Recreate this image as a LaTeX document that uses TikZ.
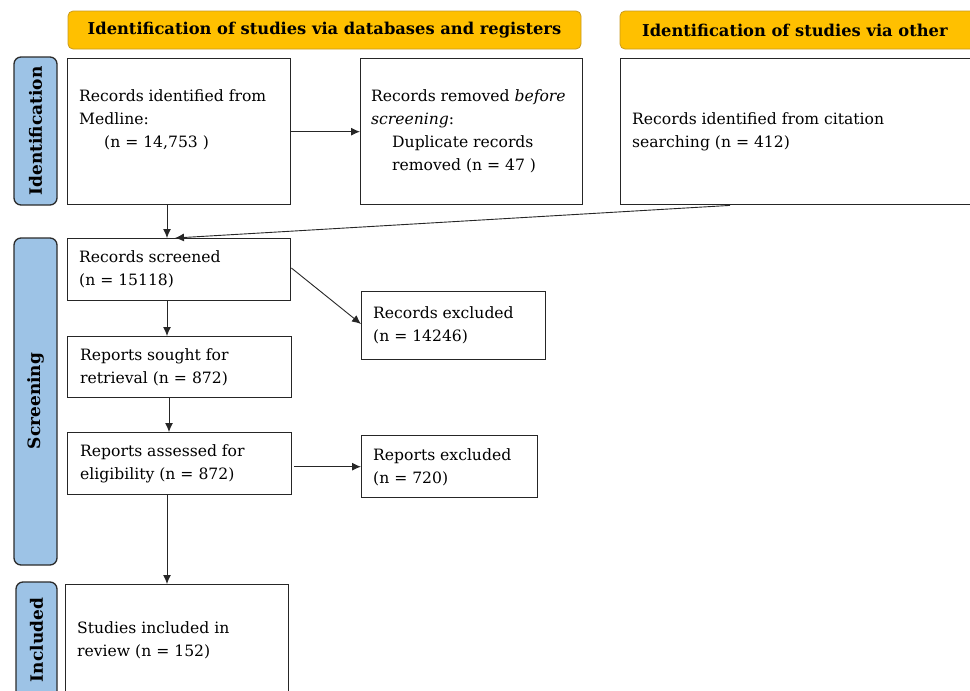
\documentclass[tikz,border=0pt]{standalone}
\usepackage{fontspec}
\setmainfont{DejaVu Serif}
\usetikzlibrary{arrows.meta}
\definecolor{hdrfill}{HTML}{FFC000}
\definecolor{hdrline}{HTML}{C99A1E}
\definecolor{sidefill}{HTML}{9DC3E6}
\definecolor{sideline}{HTML}{2B2B2B}
\definecolor{lineclr}{HTML}{262626}
\tikzset{
  hdr/.style={draw=hdrline, fill=hdrfill, rounded corners=5pt, line width=0.8pt},
  side/.style={draw=sideline, fill=sidefill, rounded corners=7pt, line width=1.3pt},
  boxx/.style={draw=lineclr, line width=1.4pt},
  txt/.style={anchor=north west, inner sep=0pt, align=left, font=\fontsize{15.6}{23}\selectfont},
  hdrtxt/.style={inner sep=0pt, font=\fontsize{16.3}{19}\selectfont\bfseries},
  sidetxt/.style={inner sep=0pt, rotate=90, font=\fontsize{17}{19}\selectfont\bfseries},
  arr/.style={draw=lineclr, line width=0.9pt, -{Latex[length=9pt,width=8pt]}},
}
\begin{document}
\begin{tikzpicture}[x=1pt,y=-1pt]
\useasboundingbox (0,0) rectangle (970,691);
\clip (0,0) rectangle (970,691);
% headers
\draw[hdr] (68,11) rectangle (581,49);
\node[hdrtxt] (h1) at (324.5,30) {Identification of studies via databases and registers};
\draw[hdr] (620,11) rectangle (990,49);
\node[hdrtxt, anchor=west] (h2) at (642,30) {Identification of studies via other};
% side labels
\draw[side] (14,57) rectangle (57,205);
\node[sidetxt] (s1) at (35.5,131) {Identification};
\draw[side] (14,238) rectangle (57,565);
\node[sidetxt] (s2) at (35.5,401) {Screening};
\draw[side] (16,582) rectangle (57,720);
\node[sidetxt] (s3) at (36.5,640) {Included};
% boxes
\node[boxx, minimum width=223pt, minimum height=146pt, anchor=north west] (med) at (67,58) {};
\node[boxx, minimum width=222pt, minimum height=146pt, anchor=north west] (rem) at (360,58) {};
\node[boxx, minimum width=380pt, minimum height=146pt, anchor=north west] (cit) at (620,58) {};
\node[boxx, minimum width=223pt, minimum height=62pt, anchor=north west] (scr) at (67,238) {};
\node[boxx, minimum width=184pt, minimum height=68pt, anchor=north west] (rex) at (361,291) {};
\node[boxx, minimum width=224pt, minimum height=61pt, anchor=north west] (sou) at (67,336) {};
\node[boxx, minimum width=224pt, minimum height=62pt, anchor=north west] (ass) at (67,432) {};
\node[boxx, minimum width=176pt, minimum height=62pt, anchor=north west] (pex) at (361,435) {};
\node[boxx, minimum width=223pt, minimum height=140pt, anchor=north west] (inc) at (65,584) {};
% texts
\node[txt] (t1) at (79,89) {Records identified from\\Medline:\\\hspace*{25pt}(n = 14,753 )};
\node[txt] (t2) at (371,89) {Records removed \textit{before}\\\textit{screening}:\\\hspace*{21pt}Duplicate records\\\hspace*{21pt}removed (n = 47 )};
\node[txt] (t3) at (632,112) {Records identified from citation\\searching (n = 412)};
\node[txt] (t4) at (79,250) {Records screened\\(n = 15118)};
\node[txt] (t5) at (373,306) {Records excluded\\(n = 14246)};
\node[txt] (t6) at (80,348) {Reports sought for\\retrieval (n = 872)};
\node[txt] (t7) at (80,444) {Reports assessed for\\eligibility (n = 872)};
\node[txt] (t8) at (373,448) {Reports excluded\\(n = 720)};
\node[txt] (t9) at (77,621) {Studies included in\\review (n = 152)};
% connectors
\draw[arr] (med.east) -- (rem.west);
\draw[arr] (med.south -| 167,0) -- (scr.north -| 167,0);
\draw[arr] (cit.south -| 730,0) -- (scr.north -| 175,0);
\draw[arr] ([yshift=-30pt]scr.north east) -- ([yshift=-33pt]rex.north west);
\draw[arr] (scr.south -| 167,0) -- (sou.north -| 167,0);
\draw[arr] (sou.south -| 169,0) -- (ass.north -| 169,0);
\draw[arr] ([xshift=2pt]ass.east |- pex.west) -- (pex.west);
\draw[arr] (ass.south -| 167,0) -- (inc.north -| 167,0);
\end{tikzpicture}
\end{document}
